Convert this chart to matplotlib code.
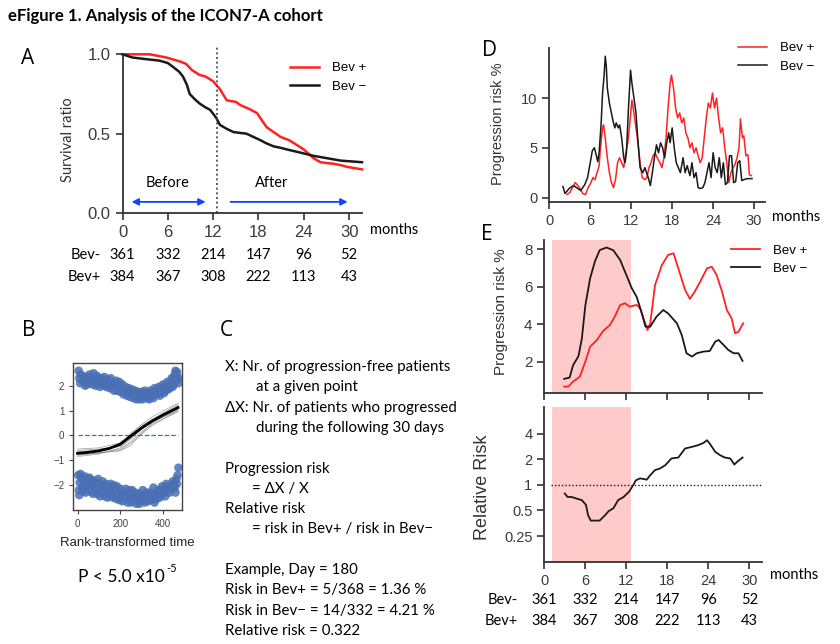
import matplotlib
matplotlib.use("Agg")
import matplotlib.pyplot as plt

plt.rcParams["font.family"] = ["Liberation Sans", "DejaVu Sans"]
TXT = ["Lato", "DejaVu Sans"]

W, H = 840, 644
RED = "#ff2222"
BLK = "#1a1a1a"
BLUE = "#1440ff"
PINK = "#ffcaca"
DOT = "#4a6fb5"
AXC = "#333333"

# ---------------- data ----------------
MONTH_TICKS = [0, 6, 12, 18, 24, 30]
RISK_BEV_MINUS = [361, 332, 214, 147, 96, 52]
RISK_BEV_PLUS = [384, 367, 308, 222, 113, 43]

# A: Kaplan-Meier curves
km_plus_t = [0, 3.6, 5.8, 7.6, 8.4, 9.2, 10.2, 11.0, 12.0, 12.9, 13.8, 15.0, 15.6,
             16.8, 17.8, 18.5, 19.1, 20.0, 20.9, 22.0, 22.7, 24.0, 24.7, 25.3,
             26.2, 27.0, 28.0, 29.0, 29.8, 31.7]
km_plus_s = [1.0, 1.0, 0.98, 0.955, 0.94, 0.90, 0.87, 0.86, 0.83, 0.78, 0.71, 0.70,
             0.68, 0.655, 0.63, 0.58, 0.54, 0.51, 0.48, 0.46, 0.44, 0.40, 0.37,
             0.345, 0.32, 0.315, 0.31, 0.30, 0.29, 0.275]
km_minus_t = [0, 1.3, 3.0, 4.9, 6.0, 6.7, 7.5, 8.0, 8.5, 8.9, 9.5, 10.2, 11.0, 11.6,
              12.4, 12.9, 13.8, 14.7, 15.5, 16.4, 17.3, 18.2, 19.0, 20.0, 21.0,
              21.8, 23.6, 25.3, 27.1, 28.9, 31.7]
km_minus_s = [1.0, 0.98, 0.97, 0.96, 0.945, 0.92, 0.89, 0.86, 0.81, 0.75, 0.72,
              0.69, 0.665, 0.65, 0.60, 0.555, 0.53, 0.51, 0.505, 0.50, 0.48,
              0.46, 0.44, 0.42, 0.41, 0.40, 0.38, 0.36, 0.345, 0.33, 0.32]

# B: residual scatter, fitted curve and bootstrap curves
b_up_x = [5, 8, 12, 20, 25, 35, 40, 50, 55, 65, 70, 80, 90, 95, 105, 110, 120, 130,
          140, 150, 160, 170, 180, 190, 200, 210, 220, 230, 240, 250, 260, 270, 280,
          290, 300, 310, 320, 330, 340, 350, 360, 370, 380, 390, 400, 410, 420, 430,
          440, 450, 455, 460, 465, 470, 472,
          15, 30, 45, 60, 75, 85, 100, 115, 125, 135, 145, 155, 165, 175, 185, 195,
          205, 215, 225, 235, 245, 255, 265, 275, 285, 295, 305, 315, 325, 335, 345,
          355, 365, 375, 385, 395, 405, 415, 425, 435, 445, 450, 458, 468]
b_up_y = [2.6, 2.3, 2.1, 2.4, 2.2, 2.0, 2.35, 2.15, 2.45, 2.3, 2.05, 2.25, 2.4, 2.1,
          1.95, 2.3, 2.15, 2.0, 2.25, 1.9, 2.1, 1.8, 2.2, 1.95, 1.75, 2.05, 1.85,
          1.6, 1.9, 1.7, 1.5, 1.8, 1.65, 1.45, 1.75, 1.55, 1.7, 1.5, 1.8, 1.6, 1.9,
          1.65, 1.95, 1.75, 2.05, 1.8, 2.15, 1.9, 2.3, 2.05, 2.45, 2.2, 2.55, 2.35,
          2.1,
          2.45, 2.25, 2.05, 2.35, 2.5, 2.0, 2.3, 2.05, 2.35, 1.95, 2.15, 2.3, 1.95,
          2.05, 1.8, 2.15, 1.9, 1.65, 1.95, 1.75, 1.55, 1.85, 1.6, 1.45, 1.75, 1.6,
          1.45, 1.8, 1.6, 1.45, 1.7, 1.5, 1.75, 1.85, 1.6, 1.95, 1.7, 2.0, 1.85,
          2.15, 1.95, 2.35, 2.6, 2.25]
b_lo_x = [3, 6, 10, 18, 22, 30, 38, 45, 52, 60, 68, 75, 85, 92, 100, 110, 118, 128,
          135, 145, 155, 165, 175, 185, 195, 205, 215, 225, 235, 245, 255, 265, 275,
          285, 295, 305, 315, 325, 335, 345, 355, 365, 375, 385, 395, 405, 415, 425,
          435, 445, 455, 462, 468, 472,
          8, 14, 26, 34, 42, 56, 64, 72, 80, 88, 96, 105, 114, 122, 132, 140, 150,
          160, 170, 180, 190, 200, 210, 220, 230, 240, 250, 260, 270, 280, 290, 300,
          310, 320, 330, 340, 350, 360, 370, 380, 390, 400, 410, 420, 430, 440, 450,
          458, 465]
b_lo_y = [-1.6, -2.2, -1.9, -1.7, -2.1, -1.85, -2.3, -1.75, -2.0, -2.25, -1.8, -2.1,
          -1.9, -2.35, -2.0, -2.2, -1.85, -2.45, -2.1, -2.3, -1.95, -2.5, -2.2,
          -2.05, -2.6, -2.3, -2.45, -2.15, -2.7, -2.4, -2.2, -2.6, -2.75, -2.35,
          -2.55, -2.2, -2.7, -2.45, -2.3, -2.6, -2.1, -2.4, -2.25, -2.5, -2.05,
          -2.3, -1.95, -2.2, -2.0, -1.85, -2.1, -1.75, -1.6, -1.3,
          -2.4, -1.55, -2.25, -1.65, -2.05, -1.7, -2.0, -2.35, -1.85, -2.15, -1.75,
          -2.45, -2.05, -2.25, -1.95, -2.5, -2.15, -2.35, -2.0, -2.55, -2.3, -2.15,
          -2.65, -2.35, -2.5, -2.2, -2.7, -2.45, -2.3, -2.5, -2.75, -2.45, -2.6,
          -2.3, -2.65, -2.45, -2.35, -2.7, -2.55, -2.2, -2.4, -2.15, -2.45, -2.05,
          -2.3, -2.15, -1.95, -2.3, -1.95]
b_fit_x = [0, 50, 100, 150, 200, 250, 300, 350, 400, 470]
b_fit_y = [-0.72, -0.68, -0.62, -0.52, -0.35, -0.02, 0.3, 0.58, 0.82, 1.12]
b_boot_x = [0, 100, 200, 250, 300, 350, 470]
b_boot_y = [
    [-0.55, -0.5, -0.3, 0.05, 0.45, 0.75, 1.3],
    [-0.6, -0.55, -0.45, -0.15, 0.25, 0.6, 1.2],
    [-0.85, -0.75, -0.5, -0.1, 0.3, 0.55, 1.0],
    [-0.75, -0.7, -0.62, -0.4, 0.1, 0.5, 1.05],
    [-0.65, -0.6, -0.38, 0.1, 0.4, 0.65, 1.15],
    [-0.8, -0.72, -0.55, -0.25, 0.15, 0.45, 0.95],
    [-0.7, -0.62, -0.42, -0.05, 0.35, 0.65, 1.25],
    [-0.78, -0.7, -0.6, -0.3, 0.05, 0.4, 1.0],
]

# D: raw progression risk (%)
d_minus_t = [2.0, 2.3, 2.9, 3.5, 4.0, 4.6, 5.2, 5.6, 6.0, 6.3, 6.6, 6.9, 7.1, 7.3,
             7.6, 7.8, 8.0, 8.2, 8.35, 8.5, 8.8, 9.1, 9.4, 9.6, 9.8, 10.1, 10.3,
             10.6, 10.9, 11.1, 11.3, 11.6, 11.9, 12.1, 12.4, 12.7, 13.0, 13.3,
             13.7, 14.0, 14.5, 14.8, 15.1, 15.4, 15.7, 16.0, 16.3, 16.6, 16.9,
             17.2, 17.5, 17.7, 18.0, 18.3, 18.6, 18.9, 19.2, 19.6, 19.9, 20.2,
             20.6, 20.9, 21.2, 21.5, 21.8, 22.1, 22.5, 22.8, 23.1, 23.4, 23.7,
             24.0, 24.3, 24.6, 24.9, 25.2, 25.5, 25.8, 26.1, 26.4, 26.7, 27.0,
             27.3, 27.6, 27.9, 28.2, 28.5, 29.0, 29.7]
d_minus_v = [1.1, 0.4, 0.9, 1.2, 1.0, 0.7, 1.3, 2.0, 3.5, 4.7, 5.0, 4.2, 3.6, 4.5,
             7.5, 10.5, 12.0, 14.2, 13.2, 11.0, 9.5, 8.5, 7.5, 7.0, 7.5, 7.0, 7.3,
             6.0, 4.0, 3.5, 4.5, 9.0, 12.8, 11.5, 10.0, 8.5, 5.5, 3.0, 2.5, 3.0,
             2.0, 1.2, 2.5, 4.0, 5.3, 4.5, 5.5, 5.0, 4.0, 5.5, 6.5, 5.5, 7.0, 5.0,
             3.5, 3.0, 2.5, 4.0, 2.5, 3.2, 2.2, 3.5, 2.0, 2.5, 1.0, 0.9, 1.0, 1.5,
             2.5, 3.5, 2.0, 4.5, 3.0, 2.5, 4.0, 2.0, 3.5, 1.3, 1.5, 4.2, 4.2, 1.5,
             1.6, 3.5, 3.7, 1.7, 1.8, 1.9, 1.9]
d_plus_t = [2.6, 3.0, 3.4, 3.8, 4.2, 4.6, 4.9, 5.3, 5.7, 6.1, 6.4, 6.7, 7.0, 7.3,
            7.5, 7.8, 7.95, 8.2, 8.5, 8.8, 9.1, 9.4, 9.7, 10.0, 10.3, 10.6, 10.9,
            11.2, 11.5, 11.8, 12.1, 12.4, 12.7, 13.0, 13.3, 13.6, 14.0, 14.3,
            14.6, 14.9, 15.2, 15.5, 15.8, 16.2, 16.5, 16.8, 17.1, 17.4, 17.7,
            17.9, 18.2, 18.5, 18.8, 19.1, 19.4, 19.7, 20.0, 20.3, 20.6, 20.9,
            21.2, 21.5, 21.8, 22.1, 22.4, 22.7, 23.0, 23.3, 23.6, 23.9, 24.2,
            24.5, 24.8, 25.1, 25.4, 25.7, 26.0, 26.3, 26.6, 26.9, 27.2, 27.5,
            27.8, 28.0, 28.3, 28.5, 28.8, 29.1, 29.3, 29.6]
d_plus_v = [0.3, 0.5, 1.0, 1.5, 1.2, 0.8, 0.4, 0.3, 1.0, 1.5, 2.0, 1.8, 2.5, 3.2,
            5.0, 7.0, 7.3, 6.0, 4.0, 2.5, 1.5, 1.0, 1.8, 3.5, 4.0, 3.5, 3.0, 4.5,
            5.5, 7.5, 9.8, 8.5, 7.0, 5.5, 3.5, 2.0, 1.8, 2.0, 3.0, 3.5, 4.2, 4.5,
            4.0, 3.5, 3.0, 4.0, 6.0, 9.0, 11.5, 12.3, 11.0, 9.0, 8.0, 8.5, 7.5,
            8.0, 6.5, 6.0, 5.0, 5.5, 4.5, 5.0, 4.2, 3.5, 4.0, 6.0, 8.0, 9.5, 9.0,
            10.5, 9.0, 10.0, 8.0, 6.5, 7.0, 5.0, 3.5, 1.5, 2.5, 3.0, 3.3, 4.0,
            5.0, 7.9, 6.0, 6.2, 4.2, 4.3, 2.3, 2.2]

# E (top): smoothed progression risk (%)
e_minus_t = [2.9, 3.7, 4.2, 5.0, 5.5, 6.0, 6.7, 7.4, 8.1, 9.1, 10.1, 11.1, 12.0,
             12.8, 13.5, 14.2, 14.8, 15.5, 16.4, 17.4, 18.1, 19.4, 20.1, 20.8,
             21.6, 22.3, 23.3, 24.2, 25.0, 25.5, 26.2, 26.9, 27.7, 28.4, 29.0]
e_minus_v = [1.08, 1.15, 1.8, 2.3, 3.25, 5.0, 6.45, 7.35, 7.96, 8.1, 7.95, 7.43,
             6.63, 5.92, 5.47, 4.67, 3.87, 3.87, 4.4, 4.76, 4.58, 4.05, 3.43,
             2.45, 2.27, 2.45, 2.54, 2.57, 3.07, 3.16, 2.9, 2.63, 2.45, 2.45, 2.04]
e_plus_t = [2.9, 3.5, 4.2, 5.2, 6.0, 6.7, 7.7, 8.6, 9.6, 10.3, 11.1, 11.8, 12.5,
            13.5, 14.0, 14.5, 15.1, 15.5, 16.2, 17.2, 18.1, 18.9, 19.6, 20.6,
            21.3, 22.0, 22.8, 23.8, 24.5, 25.2, 26.0, 26.7, 27.4, 27.9, 28.4, 29.1]
e_plus_v = [0.67, 0.67, 0.93, 1.2, 2.0, 2.8, 3.16, 3.64, 3.96, 4.4, 5.03, 5.12,
            4.94, 5.03, 4.85, 4.32, 3.69, 4.05, 6.1, 7.16, 7.7, 7.79, 6.99, 5.83,
            5.35, 5.74, 6.27, 6.99, 7.07, 6.63, 5.74, 4.76, 4.32, 3.52, 3.6, 4.05]

# E (bottom): relative risk
rr_t = [3.0, 3.4, 4.0, 4.7, 5.5, 6.1, 6.4, 6.8, 7.4, 8.1, 8.9, 9.4, 10.1, 10.8,
        11.6, 12.4, 12.9, 13.4, 14.0, 15.0, 15.5, 16.2, 16.9, 17.7, 18.6, 19.6,
        20.6, 21.6, 22.5, 23.3, 23.8, 24.2, 25.0, 25.7, 26.4, 27.2, 27.8, 28.2,
        29.0]
rr_v = [0.79, 0.72, 0.72, 0.69, 0.66, 0.58, 0.44, 0.38, 0.38, 0.38, 0.44, 0.49,
        0.53, 0.66, 0.72, 0.83, 0.96, 1.13, 1.19, 1.15, 1.3, 1.49, 1.55, 1.70,
        2.04, 2.09, 2.67, 2.79, 2.92, 3.11, 3.34, 3.05, 2.44, 2.23, 2.09, 2.04,
        1.73, 1.86, 2.09]

SHADE_START, SHADE_END = 1.07, 12.7
CUTOFF = 12.5

C_LINES = [
    (0, "X: Nr. of progression-free patients"),
    (1, "at a given point"),
    (0, "\u0394X: Nr. of patients who progressed"),
    (1, "during the following 30 days"),
    (None, ""),
    (0, "Progression risk"),
    (2, "= \u0394X / X"),
    (0, "Relative risk"),
    (2, "= risk in Bev+ / risk in Bev\u2212"),
    (None, ""),
    (0, "Example, Day = 180"),
    (0, "Risk in Bev+ = 5/368 = 1.36 %"),
    (0, "Risk in Bev\u2212 = 14/332 = 4.21 %"),
    (0, "Relative risk = 0.322"),
]


def box(l, t, r, b):
    return [l / W, 1 - b / H, (r - l) / W, (b - t) / H]


def style(ax, size):
    for s in ("top", "right"):
        ax.spines[s].set_visible(False)
    for s in ("left", "bottom"):
        ax.spines[s].set_color(AXC)
        ax.spines[s].set_linewidth(1.3)
    ax.tick_params(colors=AXC, labelcolor="#3a3a3a", labelsize=size,
                   length=5, width=1.2, direction="out")


def risk_table(ax, y1, y2, xlab):
    tr = ax.get_xaxis_transform()
    ax.text(xlab, y1, "Bev-", transform=ax.transAxes, ha="right", va="center",
            family=TXT, fontsize=10.5)
    ax.text(xlab, y2, "Bev+", transform=ax.transAxes, ha="right", va="center",
            family=TXT, fontsize=10.5)
    for m, a, b in zip(MONTH_TICKS, RISK_BEV_MINUS, RISK_BEV_PLUS):
        ax.text(m, y1, str(a), transform=tr, ha="center", va="center",
                family=TXT, fontsize=10.5)
        ax.text(m, y2, str(b), transform=tr, ha="center", va="center",
                family=TXT, fontsize=10.5)


def legend(ax, x, y):
    ax.legend(loc="upper left", bbox_to_anchor=(x, y), frameon=False,
              fontsize=9.5, handlelength=2.2, handletextpad=1.0,
              labelspacing=0.45, borderaxespad=0, borderpad=0)


fig = plt.figure(figsize=(W / 100, H / 100), dpi=100)

fig.text(8 / W, 1 - 16 / H, "eFigure 1. Analysis of the ICON7-A cohort",
         family=TXT, fontweight="bold", fontsize=12.1, va="center")
for lab, x, y in [("A", 28, 58), ("B", 29, 330), ("C", 226, 330),
                  ("D", 489, 50), ("E", 487, 235)]:
    fig.text(x / W, 1 - y / H, lab, family=["Open Sans", "DejaVu Sans"],
             fontsize=15, ha="center", va="center")

# ---------------- A ----------------
axA = fig.add_axes(box(122.5, 54.3, 362, 213))
hp, = axA.plot(km_plus_t, km_plus_s, color=RED, lw=1.8, label="Bev +", clip_on=False)
hm, = axA.plot(km_minus_t, km_minus_s, color=BLK, lw=1.8, label="Bev \u2212", clip_on=False)
axA.plot([CUTOFF, CUTOFF], [0, 1.05], ls=(0, (1.2, 1.6)), color="#444444",
         lw=1.2, clip_on=False)
axA.set_xlim(0, 31.7)
axA.set_ylim(0, 1.0)
axA.set_xticks(MONTH_TICKS)
axA.set_yticks([0, 0.5, 1.0])
axA.set_yticklabels(["0.0", "0.5", "1.0"])
style(axA, 12)
axA.set_ylabel("Survival ratio", fontsize=10.5, family=TXT, color="#333333")
axA.yaxis.set_label_coords(-0.2, 0.46)
axA.annotate("", xy=(1.2, 0.07), xytext=(11.0, 0.07),
             arrowprops=dict(arrowstyle="<|-|>", color=BLUE, lw=1.3,
                             mutation_scale=10, shrinkA=0, shrinkB=0))
axA.annotate("", xy=(29.8, 0.07), xytext=(14.3, 0.07),
             arrowprops=dict(arrowstyle="-|>", color=BLUE, lw=1.3,
                             mutation_scale=10, shrinkA=0, shrinkB=0))
axA.text(5.9, 0.19, "Before", family=TXT, fontsize=10.5, ha="center", va="center")
axA.text(19.8, 0.19, "After", family=TXT, fontsize=10.5, ha="center", va="center")
axA.text(1.035, -0.107, "months", transform=axA.transAxes, family=TXT,
         fontsize=10.5, va="center")
risk_table(axA, -0.265, -0.403, -0.09)
axA.legend(handles=[hp, hm])
legend(axA, 0.7, 0.95)

# ---------------- B ----------------
axB = fig.add_axes(box(73.3, 363.3, 182.3, 510))
axB.scatter(b_up_x, b_up_y, s=38, color=DOT, alpha=0.85, edgecolors="none", zorder=2)
axB.scatter(b_lo_x, b_lo_y, s=38, color=DOT, alpha=0.85, edgecolors="none", zorder=2)
for ys in b_boot_y:
    axB.plot(b_boot_x, ys, color="#888888", lw=0.5, alpha=0.8, zorder=3)
axB.plot(b_fit_x, b_fit_y, color="black", lw=2.0, zorder=4)
axB.plot([0, 470], [0, 0], ls="--", color=DOT, lw=0.9, zorder=3)
axB.set_xlim(-20, 490)
axB.set_ylim(-3.0, 2.9)
axB.set_xticks([0, 200, 400])
axB.set_yticks([-2, -1, 0, 1, 2])
axB.set_yticklabels(["\u22122", "\u22121", "0", "1", "2"])
for s in axB.spines.values():
    s.set_color("#444444")
    s.set_linewidth(1.0)
axB.tick_params(labelsize=7, colors="#444444", length=3, width=0.8)
axB.set_xlabel("Rank-transformed time", fontsize=9.5, color="#222222", labelpad=6)
fig.text(78 / W, 1 - 577 / H, "P < 5.0 x10", family=TXT, fontsize=12.5, va="center")
fig.text(166 / W, 1 - 569 / H, "-5", family=TXT, fontsize=8, va="center")

# ---------------- C ----------------
for i, (indent, line) in enumerate(C_LINES):
    if indent is None:
        continue
    x = [225, 256, 252][indent]
    fig.text(x / W, 1 - (367 + i * 20.3) / H, line, family=TXT, fontsize=10.8,
             va="center")

# ---------------- D ----------------
axD = fig.add_axes(box(549.3, 48.3, 765, 202))
dp, = axD.plot(d_plus_t, d_plus_v, color=RED, lw=1.1, label="Bev +")
dm, = axD.plot(d_minus_t, d_minus_v, color=BLK, lw=1.1, label="Bev \u2212")
axD.set_xlim(0, 31.6)
axD.set_ylim(-0.45, 15)
axD.set_xticks(MONTH_TICKS)
axD.set_yticks([0, 5, 10])
style(axD, 10.5)
axD.set_ylabel("Progression risk %", fontsize=10.5, color="#333333")
axD.yaxis.set_label_coords(-0.205, 0.51)
axD.text(1.032, -0.098, "months", transform=axD.transAxes, family=TXT,
         fontsize=10.5, va="center")
axD.legend(handles=[dp, dm])
legend(axD, 0.875, 1.04)

# ---------------- E top ----------------
axE = fig.add_axes(box(544.3, 240, 761.7, 393.3))
axE.axvspan(SHADE_START, SHADE_END, color=PINK, lw=0, zorder=0)
ep, = axE.plot(e_plus_t, e_plus_v, color=RED, lw=1.3, label="Bev +")
em, = axE.plot(e_minus_t, e_minus_v, color=BLK, lw=1.3, label="Bev \u2212")
axE.set_xlim(0, 31.8)
axE.set_ylim(0.31, 8.5)
axE.set_xticks(MONTH_TICKS)
axE.set_xticklabels([])
axE.set_yticks([2, 4, 6, 8])
style(axE, 11)
axE.set_ylabel("Progression risk %", fontsize=11, color="#333333")
axE.yaxis.set_label_coords(-0.165, 0.53)
axE.legend(handles=[ep, em])
legend(axE, 0.86, 0.97)

# ---------------- E bottom ----------------
axR = fig.add_axes(box(544.3, 407, 761.7, 561.7))
axR.axvspan(SHADE_START, SHADE_END, color=PINK, lw=0, zorder=0)
axR.axhline(1, xmin=0.03, xmax=1.0, color=BLK, ls=(0, (1, 1.5)), lw=1.0)
axR.plot(rr_t, rr_v, color=BLK, lw=1.3)
axR.set_yscale("log", base=2)
axR.set_xlim(0, 31.8)
axR.set_ylim(0.125, 8.2)
axR.set_xticks(MONTH_TICKS)
axR.set_yticks([0.25, 0.5, 1, 2, 4])
axR.set_yticklabels(["0.25", "0.5", "1", "2", "4"])
axR.minorticks_off()
style(axR, 10.5)
axR.set_ylabel("Relative Risk", fontsize=13, color="#333333")
axR.yaxis.set_label_coords(-0.245, 0.48)
axR.text(1.038, -0.086, "months", transform=axR.transAxes, family=TXT,
         fontsize=10.5, va="center")
risk_table(axR, -0.248, -0.383, -0.12)

fig.savefig("out.png", dpi=100)
